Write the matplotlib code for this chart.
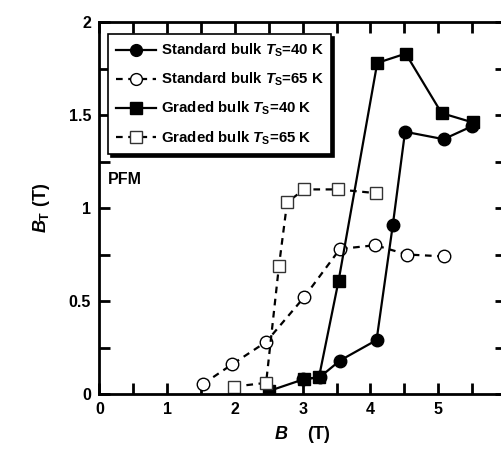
import matplotlib
matplotlib.use("Agg")
import matplotlib.pyplot as plt
from matplotlib.ticker import MultipleLocator

plt.rcParams['font.family'] = ['Liberation Sans', 'DejaVu Sans']
plt.rcParams['font.weight'] = 'bold'
plt.rcParams['axes.labelweight'] = 'bold'
plt.rcParams['mathtext.fontset'] = 'custom'
plt.rcParams['mathtext.it'] = 'Liberation Sans:italic:bold'
plt.rcParams['mathtext.rm'] = 'Liberation Sans:bold'

# Standard bulk, Ts = 40 K
std40_b = [3.0, 3.25, 3.55, 4.09, 4.33, 4.51, 5.08, 5.50]
std40_bt = [0.08, 0.09, 0.18, 0.29, 0.91, 1.41, 1.37, 1.44]
# Standard bulk, Ts = 65 K
std65_b = [1.53, 1.96, 2.46, 3.02, 3.55, 4.07, 4.54, 5.08]
std65_bt = [0.054, 0.16, 0.28, 0.52, 0.78, 0.80, 0.75, 0.74]
# Graded bulk, Ts = 40 K
gr40_b = [2.50, 3.02, 3.24, 3.53, 4.10, 4.52, 5.05, 5.51]
gr40_bt = [0.016, 0.08, 0.09, 0.61, 1.78, 1.83, 1.51, 1.46]
# Graded bulk, Ts = 65 K
gr65_b = [1.99, 2.46, 2.65, 2.77, 3.02, 3.52, 4.08]
gr65_bt = [0.04, 0.06, 0.69, 1.03, 1.10, 1.10, 1.08]

fig = plt.figure(figsize=(5.02, 4.5), dpi=100)
ax = fig.add_axes([0.198, 0.1244, 0.81, 0.8267])

dash = (0, (3, 2.5))
ax.plot(std40_b, std40_bt, '-', color='black', lw=1.6, marker='o', ms=9,
        mfc='black', mec='black', label=r'Standard bulk $T_{\rm S}$=40 K')
ax.plot(std65_b, std65_bt, linestyle=dash, color='black', lw=1.6, marker='o', ms=9,
        mfc='white', mec='black', mew=1.0, label=r'Standard bulk $T_{\rm S}$=65 K')
ax.plot(gr40_b, gr40_bt, '-', color='black', lw=1.6, marker='s', ms=8.5,
        mfc='black', mec='black', label=r'Graded bulk $T_{\rm S}$=40 K')
ax.plot(gr65_b, gr65_bt, linestyle=dash, color='black', lw=1.6, marker='s', ms=8.5,
        mfc='white', mec='#333333', mew=1.0, label=r'Graded bulk $T_{\rm S}$=65 K')

ax.set_xlim(0, 6)
ax.set_ylim(0, 2)
ax.xaxis.set_minor_locator(MultipleLocator(0.5))
ax.yaxis.set_minor_locator(MultipleLocator(0.25))
ax.set_xticks([0, 1, 2, 3, 4, 5, 6])
ax.set_xticklabels(['0', '1', '2', '3', '4', '5', '6'])
ax.set_yticks([0, 0.5, 1, 1.5, 2])
ax.set_yticklabels(['0', '0.5', '1', '1.5', '2'])
ax.tick_params(which='both', direction='in', top=True, right=True, width=2,
               labelsize=11.5, pad=6, length=8)
for s in ax.spines.values():
    s.set_linewidth(2)

ax.set_xlabel(r'$B$    (T)', fontsize=13, labelpad=5)
ax.set_ylabel(r'$B_{\rm T}$ (T)', fontsize=13, labelpad=12)

ax.text(0.022, 0.565, 'PFM', transform=ax.transAxes, fontsize=11.5, fontweight='bold')

leg = ax.legend(loc='upper left', bbox_to_anchor=(0.014, 0.975), fontsize=10.8,
                frameon=True, fancybox=False, edgecolor='black',
                shadow={'color': 'black', 'alpha': 1}, handlelength=2.7,
                handletextpad=0.3, borderpad=0.5, labelspacing=0.78,
                borderaxespad=0.2)
leg.get_frame().set_linewidth(1.2)
for h in leg.get_lines():
    h.set_markersize(8.5)

fig.savefig('out.png', dpi=100)
